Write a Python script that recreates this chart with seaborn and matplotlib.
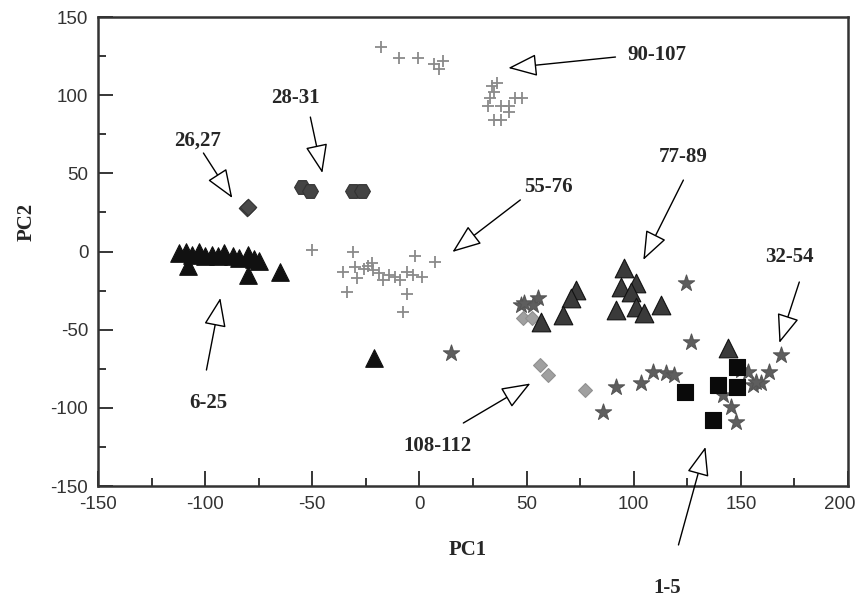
import matplotlib
matplotlib.use("Agg")
import matplotlib.pyplot as plt
import matplotlib.transforms as mtransforms
import seaborn as sns
import pandas as pd

# ---- data (PC1, PC2) ----
tri_6_25_x = [-112, -109, -106, -103, -100, -97, -94, -91, -87, -84, -80, -77, -75, -108, -80, -65, -21]
tri_6_25_y = [-1, 0, -2, 0, -3, -2, -3, -1, -3, -4, -2, -5, -6, -9, -15, -13, -68]

dia_26_27_x = [-80.5, -80]
dia_26_27_y = [28, 28.5]

hex_28_31_x = [-55, -51, -31, -27]
hex_28_31_y = [41, 39, 39, 39]

star_32_54_x = [14.9, 124.6, 126.9, 109.2, 115.3, 119, 103.6, 91.9, 85.9, 150.3, 153.5, 155.9,
                159.6, 163.3, 168.9, 141.9, 145.6, 147.9, 55.5, 47.6, 53.2, 48.9, 157]
star_32_54_y = [-64.9, -20.2, -57.9, -77.1, -77.7, -79, -84.1, -86.7, -102.7, -75.8, -77.1, -85.4,
                -84.1, -77.1, -66.2, -91.8, -99.5, -109.1, -29.8, -34.2, -34.2, -33, -83.5]

plus_55_76_x = [-50, -31, -35.5, -30, -29, -22, -21.5, -16.8, -11.2, -5.6, -1.9, 1.4, 7.5,
                -33.6, -5.6, -7.5, -14, -19, -26, -9, -3, -24]
plus_55_76_y = [1, 0, -13, -10, -17, -7.5, -12, -18, -16, -13, -3, -16, -6.6,
                -26, -27, -39, -15, -14, -11, -18, -15, -9]

tri_77_89_x = [95.7, 94.3, 101.3, 98.9, 91.9, 101.3, 105, 112.9, 73.3, 70.9, 67.2, 56.9, 144.2]
tri_77_89_y = [-10.6, -22.7, -20.2, -25.9, -37.4, -35.5, -39.3, -34.2, -24.6, -29.8, -40.6, -45.1, -61.7]

plus_90_107_x = [-17.8, -9.4, -0.5, 7, 11, 9, 33.7, 32.8, 34.6, 32, 38, 44.5, 47.7, 41.6, 34.6, 38, 36, 42]
plus_90_107_y = [131, 124, 124, 120, 122, 117, 106, 98, 102, 93, 93, 98, 98, 89, 84, 84, 108, 93]

dia_108_112_x = [48.5, 52.7, 56.5, 60.2, 77.5]
dia_108_112_y = [-42.5, -42.5, -72.6, -79, -88.6]

sq_1_5_x = [124.1, 139.5, 148.4, 148.4, 137.2]
sq_1_5_y = [-89.9, -85.4, -86.7, -73.9, -107.8]

# group labels: text position, arrow tail, arrow tip
labels = ["90-107", "28-31", "26,27", "55-76", "77-89", "32-54", "108-112", "6-25", "1-5"]
label_xy = [(111, 126), (-58, 98), (-103.5, 71), (60, 41), (123, 60.5), (172.7, -3.5),
            (8.5, -124.5), (-98.5, -97), (115.7, -215)]
arrow_tail = [(91.5, 124.4), (-50.9, 86), (-100.8, 63), (47.1, 33), (123.2, 45.7), (177.3, -19.5),
              (20.5, -109.7), (-99.4, -75.8), (120.9, -187.7)]
arrow_tip = [(41.5, 117.4), (-45.3, 50.2), (-87.3, 34.2), (15.4, -0.3), (104.5, -5.4), (168, -58.5),
             (51.8, -84.4), (-92.9, -29.7), (133.5, -125)]

# x, y, marker, face, edge, size
groups = [
    (plus_90_107_x, plus_90_107_y, "+", "#8a8a8a", None, 85),
    (plus_55_76_x, plus_55_76_y, "+", "#8a8a8a", None, 85),
    (star_32_54_x, star_32_54_y, "*", "#5e5e5e", "#555555", 150),
    (dia_108_112_x, dia_108_112_y, "D", "#a0a0a0", "#909090", 50),
    (tri_77_89_x, tri_77_89_y, "^", "#3a3a3a", "#111111", 180),
    (tri_6_25_x, tri_6_25_y, "^", "#111111", "#111111", 160),
    (dia_26_27_x, dia_26_27_y, "D", "#4a4a4a", "#333333", 70),
    (hex_28_31_x, hex_28_31_y, "H", "#444444", "#333333", 130),
    (sq_1_5_x, sq_1_5_y, "s", "#0a0a0a", "#0a0a0a", 120),
]

sns.set_style("white")
plt.rcParams["font.family"] = ["Liberation Sans", "DejaVu Sans"]
plt.rcParams["axes.unicode_minus"] = False

fig = plt.figure(figsize=(8.62, 5.97), dpi=100)
ax = fig.add_axes([0.1137, 0.1859, 0.870, 0.7856])

for gx, gy, mk, col, edge, size in groups:
    df = pd.DataFrame({"PC1": gx, "PC2": gy})
    if mk == "+":
        sns.scatterplot(data=df, x="PC1", y="PC2", marker=mk, color=col, s=size,
                        linewidth=1.3, ax=ax, zorder=2)
    else:
        sns.scatterplot(data=df, x="PC1", y="PC2", marker=mk, color=col, s=size,
                        edgecolor=edge, linewidth=0.8, ax=ax, zorder=3)

for lab, (tx, ty), tail, tip in zip(labels, label_xy, arrow_tail, arrow_tip):
    ax.text(tx, ty, lab, ha="center", va="center", fontsize=15, fontweight="bold",
            family="Liberation Serif", clip_on=False)
    ax.annotate("", xy=tip, xytext=tail, annotation_clip=False,
                arrowprops=dict(arrowstyle="-|>,head_length=1.3,head_width=0.5",
                                mutation_scale=14, fc="white", ec="black", lw=1.0,
                                shrinkA=0, shrinkB=0))

ax.set_xlim(-150, 200)
ax.set_ylim(-150, 150)
ax.set_xticks(range(-150, 201, 50))
ax.set_yticks(range(-150, 151, 50))
ax.set_xticks(range(-125, 200, 50), minor=True)
ax.set_yticks(range(-125, 150, 50), minor=True)
ax.tick_params(which="major", direction="in", length=11, width=1.3, labelsize=13.5,
               labelcolor="#333333", pad=7)
ax.tick_params(which="minor", direction="in", length=6, width=1.3)
ax.tick_params(axis="x", bottom=True, top=False, which="both")
ax.tick_params(axis="y", left=True, right=False, which="both")

# last x label sits a little left of its tick, as in the source figure
last = ax.get_xticklabels()[-1]
last.set_transform(last.get_transform() + mtransforms.ScaledTranslation(-6 / 72, 0, fig.dpi_scale_trans))

for side, sp in ax.spines.items():
    sp.set_linewidth(1.8)
    sp.set_color("#333333")

ax.set_xlabel("")
ax.set_ylabel("")
fig.text(468 / 862, 1 - 550 / 597, "PC1", ha="center", va="center", fontsize=15,
         fontweight="bold", family="Liberation Serif")
fig.text(27 / 862, 1 - 222 / 597, "PC2", ha="center", va="center", fontsize=15,
         fontweight="bold", family="Liberation Serif", rotation=90)

fig.savefig("out.png", dpi=100)
